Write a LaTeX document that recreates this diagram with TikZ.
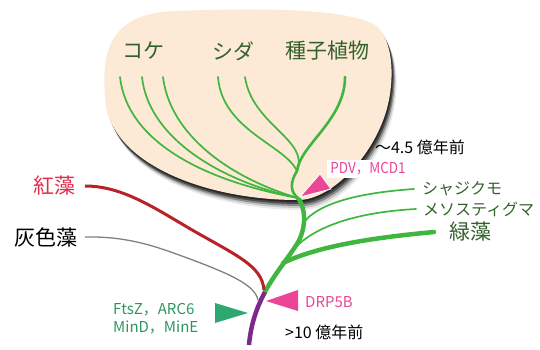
\documentclass[tikz,border=0pt]{standalone}
\usepackage{fontspec}
\usepackage{graphicx}
\setmainfont{Noto Sans CJK JP}
\definecolor{blobc}{RGB}{252,233,214}
\definecolor{lgreen}{RGB}{64,182,64}
\definecolor{dgreen}{RGB}{52,98,45}
\definecolor{redline}{RGB}{185,35,40}
\definecolor{redtext}{RGB}{225,45,75}
\definecolor{purp}{RGB}{125,40,140}
\definecolor{pinkc}{RGB}{235,70,150}
\definecolor{tealc}{RGB}{45,168,115}
\definecolor{tealtext}{RGB}{45,150,95}
\newcommand{\blobpath}{(298,200) .. controls (200,200) and (105,160) .. (105,95)
  .. controls (100,40) and (120,13) .. (175,11)
  .. controls (260,8) and (345,8) .. (375,25)
  .. controls (395,40) and (395,85) .. (385,115)
  .. controls (370,160) and (330,200) .. (298,200) -- cycle}
\tikzset{
  thin branch/.style={draw=lgreen,line width=1.7pt,line cap=round},
  thick branch/.style={draw=lgreen,line width=4.5pt,line cap=round},
  bigjp/.style={font=\fontsize{21}{21}\selectfont,inner sep=0pt},
  midjp/.style={font=\fontsize{16}{16}\selectfont,inner sep=0pt},
  gene/.style={font=\fontsize{15}{18}\selectfont,inner sep=0pt}
}
\begin{document}
\begin{tikzpicture}[x=1pt,y=-1pt]
\useasboundingbox (0,0) rectangle (540,349);
% shadow of blob
\foreach \dx/\dy/\op in {1/2/0.5,2/4/0.45,3/6/0.3,4/8/0.15,5/10/0.08}{
  \fill[black,opacity=\op,shift={(\dx,\dy)}] \blobpath;
}
\fill[blobc] \blobpath;
% labels in blob
\node[bigjp,text=dgreen] (koke) at (143,51) {コケ};
\node[bigjp,text=dgreen] (shida) at (233,51) {シダ};
\node[bigjp,text=dgreen] (shushi) at (327,51) {種子植物};
% coordinates of the tree
\coordinate (j0) at (298,198);
\coordinate (j1) at (297,171);
\coordinate (k1) at (120,77);
\coordinate (k2) at (142,77);
\coordinate (k3) at (163,77);
\coordinate (s1) at (218,77);
\coordinate (s2) at (245,77);
\coordinate (sp) at (345,77);
% land plants
\draw[thin branch] (k1) .. controls (127,140) and (200,180) .. (j0);
\draw[thin branch] (k2) .. controls (148,135) and (215,180) .. (j0);
\draw[thin branch] (k3) .. controls (170,135) and (230,178) .. (j0);
\draw[thin branch] (s1) .. controls (222,130) and (285,145) .. (j1);
\draw[thin branch] (s2) .. controls (252,125) and (310,140) .. (j1);
\draw[draw=lgreen,line width=2.6pt,line cap=round] (sp) .. controls (345,120) and (300,145) .. (j1);
\draw[draw=lgreen,line width=2.6pt] (j1) .. controls (290,182) and (290,192) .. (j0);
% main trunk
\coordinate (j2) at (265,292);
\coordinate (jc) at (304,222);
\coordinate (jm) at (293,250);
\coordinate (jg) at (283,263);
\coordinate (root) at (249,345);
\draw[thick branch,line cap=butt] (j0) .. controls (307,210) and (306,232) .. (295,247) .. controls (285,262) and (272,278) .. (j2);
\draw[draw=purp,line width=4.5pt] (j2) .. controls (258,305) and (251,322) .. (root);
% green algae branches
\node[midjp,text=dgreen,anchor=west] (chara) at (422,189) {シャジクモ};
\node[midjp,text=dgreen,anchor=west] (meso) at (423,209) {メソスティグマ};
\node[bigjp,text=dgreen,anchor=west] (ryoku) at (449,232) {緑藻};
\draw[thin branch] (jc) .. controls (322,200) and (370,192) .. ([xshift=-8pt]chara.west);
\draw[thin branch] (jm) .. controls (315,225) and (360,212) .. ([xshift=-7pt]meso.west);
\draw[thick branch] (jg) .. controls (320,245) and (380,237) .. ([xshift=-15pt]ryoku.west);
% red and glaucophyte
\node[bigjp,text=redtext,anchor=east] (kou) at (76,186) {紅藻};
\node[bigjp,text=black,anchor=east] (kai) at (78,237) {灰色藻};
\draw[draw=redline,line width=3pt] ([xshift=9pt]kou.east) .. controls (120,186) and (150,205) .. (187,227) .. controls (235,255) and (262,265) .. (264,290);
\draw[draw=gray,line width=1.3pt] ([xshift=7pt]kai.east) .. controls (130,236) and (160,248) .. (190,259) .. controls (230,274) and (255,285) .. (258,300);
% time labels
\node[midjp,text=black] (t45) at (420,147) {～4.5 億年前};
\node[midjp,text=black,anchor=west] (t10) at (285,332) {>10 億年前};
% PDV / MCD1
\node[gene,text=pinkc,fill=white,inner xsep=3pt,inner ysep=3pt] (pdv) at (368,169) {\scalebox{0.9}[1]{PDV，MCD1}};
\fill[pinkc,draw=white,line width=0.8pt] (300,197) -- (320,174) -- (331,189) -- cycle;
% DRP5B
\node[gene,text=pinkc,anchor=west] (drp) at (305,302) {DRP5B};
\fill[pinkc] (266,301) -- (298,290) -- (298,311) -- cycle;
% FtsZ etc
\node[gene,text=tealtext,anchor=west,align=left] (fts) at (113,319) {FtsZ，ARC6\\MinD，MinE};
\fill[tealc] (248,313) -- (215,303) -- (215,323) -- cycle;
\end{tikzpicture}
\end{document}
